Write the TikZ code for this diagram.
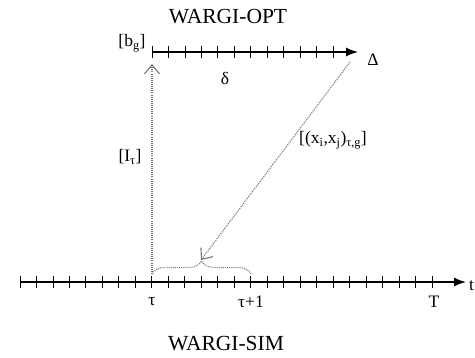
\documentclass[tikz,border=0pt]{standalone}
\usepackage{fontspec}
\setmainfont{Liberation Serif}
\usetikzlibrary{arrows.meta,positioning,calc,decorations.pathreplacing}

\begin{document}
\begin{tikzpicture}[x=1pt,y=-1pt,>=Latex,
 axisline/.style={line width=1.4pt,-{Latex[length=12pt,width=9pt]}},
 tickmark/.style={line width=0.9pt},
 dotline/.style={black!55,line width=1.1pt,dash pattern=on 1pt off 1.1pt},
 dotarrow/.style={dotline,-{Straight Barb[length=9pt,width=15pt,line width=1.1pt]}},
 lbl/.style={inner sep=0pt,font=\fontsize{17.5}{20}\selectfont},
 ttl/.style={inner sep=0pt,font=\fontsize{21.5}{24}\selectfont}]
 \useasboundingbox (0,0) rectangle (475,357);
 % time axes
 \coordinate (sim0) at (20,282);
 \coordinate (simend) at (466,282);
 \coordinate (opt0) at (152,52);
 \coordinate (optend) at (358,52);
 \draw[axisline] (sim0) -- (simend);
 \draw[axisline] (opt0) -- (optend);
 \foreach \i in {0,...,25}
  \draw[tickmark] ($(sim0)+(16.48*\i,-6)$) -- ++(0,12);
 \foreach \i in {0,...,11}
  \draw[tickmark] ($(opt0)+(16.48*\i,-6)$) -- ++(0,12);
 % labels
 \node[ttl] (opt) at (228,17) {WARGI-OPT};
 \node[ttl] (sim) at (226,344) {WARGI-SIM};
 \node[lbl] (bg) at (132,43) {[b\textsubscript{g}]};
 \node[lbl] (delta) at (225,78) {δ};
 \node[lbl] (Delta) at (373,60) {Δ};
 \node[lbl] (tau) at (152,302) {τ};
 \node[lbl] (tau1) at (251,302) {τ+1};
 \node[lbl] (T) at (434,302) {T};
 \node[lbl,anchor=west] (t) at (469,286) {t};
 \node[lbl] (It) at (130,157) {[I\textsubscript{τ}]};
 \node[lbl] (xx) at (333,140) {[(x\textsubscript{i},x\textsubscript{j})\textsubscript{τ,g}]};
 % interval brace and links
 \coordinate (bl) at (152,274);
 \coordinate (br) at (251,274);
 \coordinate (btip) at (201,260);
 \coordinate (dstart) at (350,62);
 \draw[dotline,decorate,decoration={brace,amplitude=13pt}] (bl) -- (br);
 \draw[dotarrow] (bl) -- ($(opt0)+(0,12)$);
 \draw[dotarrow] (dstart) -- (btip);
\end{tikzpicture}
\end{document}
